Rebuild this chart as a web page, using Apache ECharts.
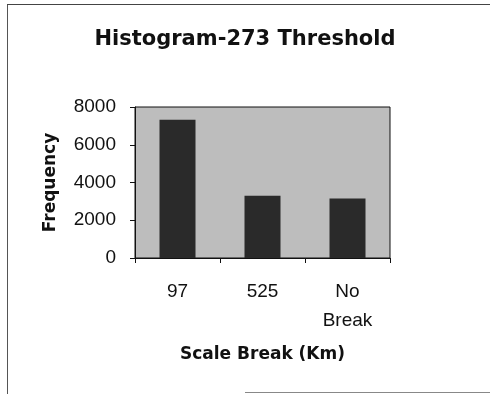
<!DOCTYPE html>
<html>
<head>
<meta charset="utf-8">
<script src="https://cdn.jsdelivr.net/npm/echarts@6/dist/echarts.min.js"></script>
<style>
  html, body { margin: 0; padding: 0; background: #ffffff; }
  #chart { width: 490px; height: 394px; }
</style>
</head>
<body>
<div id="chart"></div>
<script>
// Scale break categories and their pixel frequencies
const categories = ['97', '525', 'No\nBreak'];
const frequencies = [7320, 3300, 3150];
const yTicks = { min: 0, max: 8000, interval: 2000 };

const chart = echarts.init(document.getElementById('chart'), null, { renderer: 'canvas' });

chart.setOption({
  animation: false,
  backgroundColor: '#ffffff',
  title: {
    text: 'Histogram-273 Threshold',
    left: 'center',
    top: 24,
    textStyle: {
      fontFamily: 'DejaVu Sans',
      fontWeight: 'bold',
      fontSize: 21,
      color: '#111111'
    }
  },
  grid: {
    left: 135,
    right: 100,
    top: 107,
    bottom: 136,
    show: true,
    backgroundColor: '#bdbdbd',
    borderColor: '#111111',
    borderWidth: 1
  },
  xAxis: {
    type: 'category',
    data: categories,
    name: 'Scale Break (Km)',
    nameLocation: 'middle',
    nameGap: 88,
    nameTextStyle: {
      fontFamily: 'DejaVu Sans',
      fontWeight: 'bold',
      fontSize: 17,
      color: '#111111'
    },
    axisLine: { lineStyle: { color: '#111111', width: 1 } },
    axisTick: { show: true, alignWithLabel: false, length: 5, lineStyle: { color: '#111111' } },
    axisLabel: {
      margin: 19,
      fontFamily: 'Liberation Sans',
      fontSize: 19,
      lineHeight: 29,
      color: '#111111'
    }
  },
  yAxis: {
    type: 'value',
    min: yTicks.min,
    max: yTicks.max,
    interval: yTicks.interval,
    name: 'Frequency',
    nameLocation: 'middle',
    nameGap: 76,
    nameTextStyle: {
      fontFamily: 'DejaVu Sans',
      fontWeight: 'bold',
      fontSize: 17,
      color: '#111111'
    },
    axisLine: { show: true, lineStyle: { color: '#111111', width: 1 } },
    axisTick: { show: true, length: 5, lineStyle: { color: '#111111' } },
    splitLine: { show: false },
    axisLabel: {
      margin: 19,
      fontFamily: 'Liberation Sans',
      fontSize: 19,
      color: '#111111',
      formatter: function (v) { return String(v); },
      verticalAlign: 'middle',
      padding: [4, 0, 0, 0]
    }
  },
  series: [{
    type: 'bar',
    data: frequencies,
    barWidth: 36,
    itemStyle: { color: '#2a2a2a' }
  }],
  graphic: [
    // page frame lines
    { type: 'line', shape: { x1: 7.5, y1: 5, x2: 7.5, y2: 394 }, style: { stroke: '#555555', lineWidth: 1 } },
    { type: 'line', shape: { x1: 7, y1: 4.5, x2: 490, y2: 4.5 }, style: { stroke: '#444444', lineWidth: 1 } },
    { type: 'line', shape: { x1: 245, y1: 392.5, x2: 490, y2: 392.5 }, style: { stroke: '#888888', lineWidth: 1 } }
  ]
});
</script>
</body>
</html>
